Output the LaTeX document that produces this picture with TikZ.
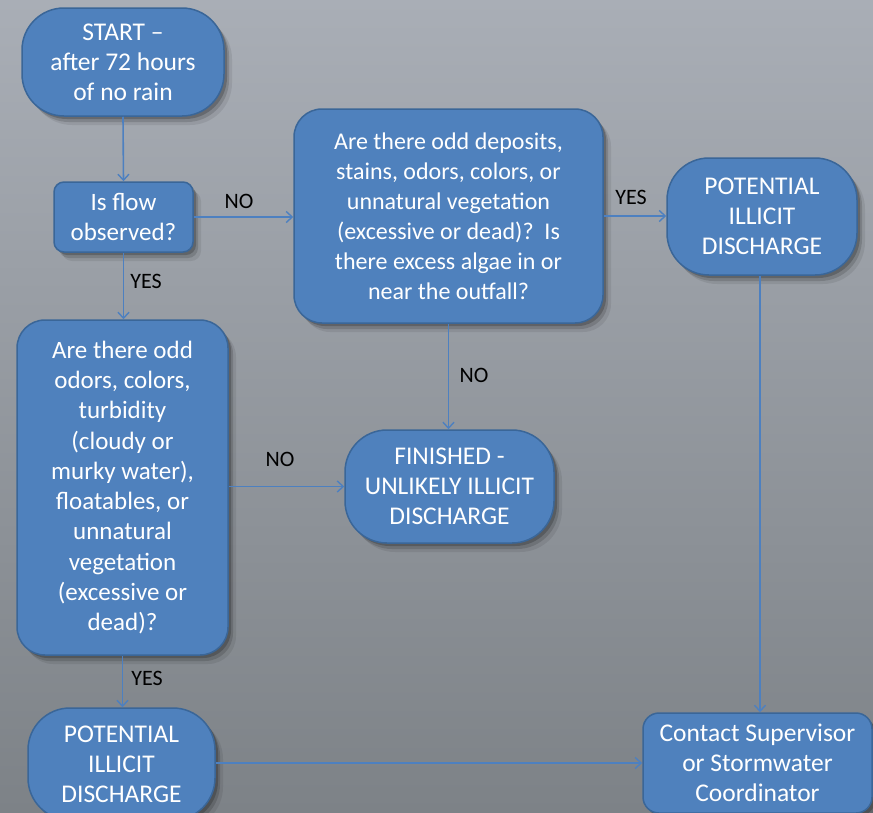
\documentclass[tikz,border=0pt]{standalone}
\usepackage{fontspec}
\setmainfont{Carlito}
\usetikzlibrary{arrows.meta,shadows}
\definecolor{bgtop}{HTML}{A9AEB6}
\definecolor{bgbot}{HTML}{7D8287}
\definecolor{boxfill}{HTML}{4F81BD}
\definecolor{boxline}{HTML}{3A6698}
\definecolor{linkc}{HTML}{4D80C0}
\tikzset{
  box/.style={draw=boxline, line width=1.5pt, fill=boxfill, text=white, align=center,
    inner sep=0pt, font=\fontsize{25.5}{30}\selectfont,
    drop shadow={shadow xshift=8pt, shadow yshift=-9pt, opacity=.08, fill=black},
    drop shadow={shadow xshift=5pt, shadow yshift=-6pt, opacity=.14, fill=black},
    drop shadow={shadow xshift=3pt, shadow yshift=-3pt, opacity=.2, fill=black}},
  term/.style={box, rounded corners=42pt},
  proc/.style={box, rounded corners=28pt},
  small/.style={box, rounded corners=10pt},
  link/.style={draw=linkc, line width=1.6pt, -{Straight Barb[length=6pt,width=11pt,line width=1.4pt]}},
  lbl/.style={text=black, font=\fontsize{22}{26}\selectfont, inner sep=0pt}
}
\begin{document}
\begin{tikzpicture}[x=1pt,y=-1pt]
\shade[top color=bgtop, bottom color=bgbot] (0,0) rectangle (873,812);
\useasboundingbox (0,0) rectangle (873,812);

\node[term, minimum width=202pt, minimum height=108pt] (start) at (123,62)
  {START --\\after 72 hours\\of no rain};
\node[small, minimum width=139pt, minimum height=70pt, font=\fontsize{25}{30}\selectfont] (flow) at (123.5,217)
  {Is flow\\observed?};
\node[proc, minimum width=309pt, minimum height=214pt, font=\fontsize{24}{30}\selectfont] (q2) at (448.5,216)
  {Are there odd deposits,\\stains, odors, colors, or\\unnatural vegetation\\(excessive or dead)?~~Is\\there excess algae in or\\near the outfall?};
\node[term, minimum width=190pt, minimum height=117pt] (pot1) at (762,216.5)
  {POTENTIAL\\ILLICIT\\DISCHARGE};
\node[proc, minimum width=211pt, minimum height=335pt, font=\fontsize{25}{30.3}\selectfont] (q1) at (122.5,487.5)
  {Are there odd\\odors, colors,\\turbidity\\(cloudy or\\murky water),\\floatables, or\\unnatural\\vegetation\\(excessive or\\dead)?};
\node[term, minimum width=209pt, minimum height=113pt] (fin) at (449.5,486.5)
  {FINISHED -\\UNLIKELY ILLICIT\\DISCHARGE};
\node[term, minimum width=187pt, minimum height=112pt] (pot2) at (121.5,764)
  {POTENTIAL\\ILLICIT\\DISCHARGE};
\node[proc, rounded corners=16pt, minimum width=229pt, minimum height=100pt] (contact) at (757.5,763)
  {Contact Supervisor\\or Stormwater\\Coordinator};

\coordinate (p1b) at (760,275);
\draw[link] (start.south) -- (flow.north);
\draw[link] (flow.east) -- (flow.east -| q2.west);
\draw[link] (q2.east) -- (q2.east -| pot1.west);
\draw[link] (p1b |- pot1.south) -- (p1b |- contact.north);
\draw[link] (flow.south) -- (flow.south |- q1.north);
\draw[link] (q2.south) -- (q2.south |- fin.north);
\draw[link] (q1.east |- fin.west) -- (fin.west);
\draw[link] (q1.south) -- (q1.south |- pot2.north);
\draw[link] (pot2.east |- contact.west) -- (contact.west);

\node[lbl] (l1) at (239,201) {NO};
\node[lbl] (l2) at (631,197) {YES};
\node[lbl] (l3) at (146,281) {YES};
\node[lbl] (l4) at (474,375) {NO};
\node[lbl] (l5) at (280,459) {NO};
\node[lbl] (l6) at (147,678) {YES};
\end{tikzpicture}
\end{document}
